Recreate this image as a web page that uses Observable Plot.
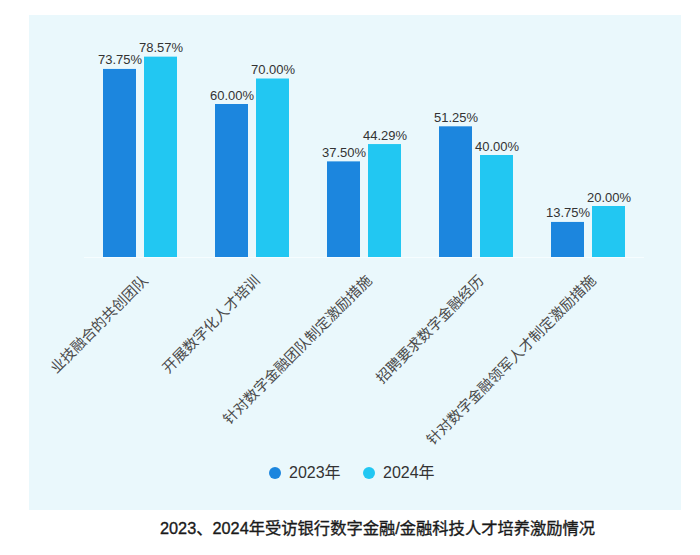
<!DOCTYPE html>
<html>
<head>
<meta charset="utf-8">
<script src="https://cdn.jsdelivr.net/npm/d3@7"></script>
<script src="https://cdn.jsdelivr.net/npm/@observablehq/plot@0.6"></script>
<style>
  html, body { margin: 0; padding: 0; background: #ffffff; }
  body { width: 700px; height: 555px; position: relative; overflow: hidden;
         font-family: "Liberation Sans", "Noto Sans CJK SC", sans-serif; }
  #panel { position: absolute; left: 29px; top: 15px; width: 652px; height: 495px; background: #eaf8fc; }
  #chart { position: absolute; left: 0; top: 0; }
  #legend { position: absolute; top: 462px; left: 0; width: 700px; height: 22px; }
  .item { position: absolute; top: 0; display: flex; align-items: center; font-size: 16px; color: #333; line-height: 22px; }
  .dot { width: 12px; height: 12px; border-radius: 50%; margin-right: 8px; }
  #title { position: absolute; top: 515px; left: 160px; font-size: 16.3px; font-weight: normal; color: #1a1a1a; white-space: nowrap;
           -webkit-text-stroke: 0.35px #1a1a1a;
           font-family: "Liberation Sans", "Noto Sans CJK SC", sans-serif; }
</style>
</head>
<body>
<div id="panel"></div>
<div id="chart"></div>
<div id="legend"></div>
<div id="title">2023、2024年受访银行数字金融/金融科技人才培养激励情况</div>
<script>
const categories = ["业技融合的共创团队", "开展数字化人才培训", "针对数字金融团队制定激励措施", "招聘要求数字金融经历", "针对数字金融领军人才制定激励措施"];
const years = ["2023年", "2024年"];
const values2023 = [73.75, 60.00, 37.50, 51.25, 13.75];
const values2024 = [78.57, 70.00, 44.29, 40.00, 20.00];
const colors = ["#1c86de", "#22c7f2"];

const data = [];
categories.forEach((c, i) => {
  data.push({cat: c, year: years[0], value: values2023[i]});
  data.push({cat: c, year: years[1], value: values2024[i]});
});

const chart = Plot.plot({
  width: 700,
  height: 450,
  marginLeft: 82,
  marginRight: 54,
  marginTop: 53,
  marginBottom: 193,
  style: {background: "transparent", fontFamily: "Liberation Sans, Noto Sans CJK SC, sans-serif"},
  fx: {domain: categories, padding: 0, label: null},
  x: {domain: years, paddingInner: 0.19, paddingOuter: 0.44, axis: null},
  y: {domain: [0, 80], axis: null},
  color: {domain: years, range: colors},
  marks: [
    Plot.ruleY([0], {stroke: "#f6fdff", strokeWidth: 1}),
    Plot.barY(data, {fx: "cat", x: "year", y: "value", fill: "year"}),
    Plot.text(data, {fx: "cat", x: "year", y: "value", text: d => d.value.toFixed(2) + "%",
      lineAnchor: "bottom", dy: -5, fontSize: 13, fill: "#333"}),
    Plot.axisFx({anchor: "bottom", tickRotate: -45, tickSize: 0, fontSize: 14.5, fill: "#4a4a4a", dx: 5, dy: 9, label: null})
  ]
});
document.getElementById("chart").appendChild(chart);

const legend = document.getElementById("legend");
const lx = [269, 363];
years.forEach((y, i) => {
  const item = document.createElement("div");
  item.className = "item";
  item.style.left = lx[i] + "px";
  item.innerHTML = `<span class="dot" style="background:${colors[i]}"></span><span>${y}</span>`;
  legend.appendChild(item);
});
</script>
</body>
</html>
